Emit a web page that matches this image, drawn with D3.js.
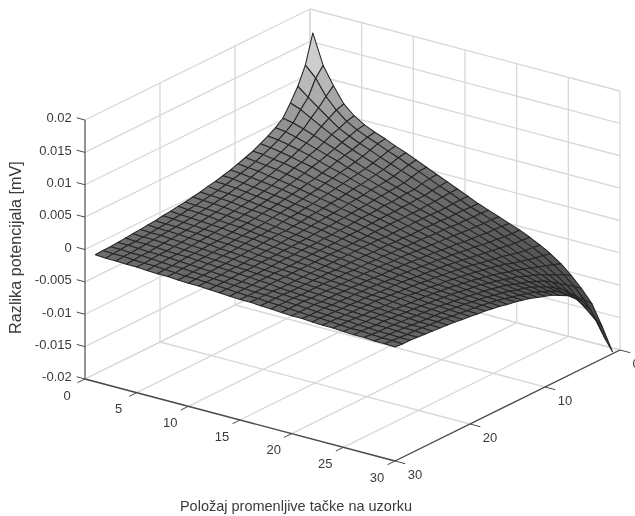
<!DOCTYPE html>
<html lang="en">
<head>
  <meta charset="UTF-8">
  <title>Razlika potencijala</title>
  <script src="https://d3js.org/d3.v7.min.js"></script>
  <style>
    html, body { margin: 0; background: #fff; overflow: hidden; }
    svg { display: block; filter: blur(0.35px); }
    text { font-family: "Liberation Sans", Arial, sans-serif; fill: #3a3a3a; }
  </style>
</head>
<body>

<svg width="635" height="516"></svg>

<script>
  const xTicks = [0, 5, 10, 15, 20, 25, 30];
  const yTicks = [0, 10, 20, 30];
  const zTicks = [-0.02, -0.015, -0.01, -0.005, 0, 0.005, 0.01, 0.015, 0.02];
  const xLabel = "Položaj promenljive tačke na uzorku";
  const zLabel = "Razlika potencijala [mV]";

  // surface, in 1e-4 mV: one row per y = 1..30, one column per x = 1..30
  const zUnit = 1e-4;
  const surfaceZ = [
    [173,127,100,76,62,52,45,39,32,26,19,12,5,-2,-9,-16,-23,-29,-35,-41,-47,-54,-62,-71,-82,-96,-112,-131,-162,-197],
    [129,113,89,72,59,50,43,37,30,24,17,11,4,-3,-9,-16,-23,-28,-34,-40,-47,-53,-60,-68,-78,-89,-103,-120,-143,-171],
    [102,89,77,65,54,46,39,33,26,20,14,8,2,-4,-10,-16,-22,-28,-34,-39,-46,-52,-59,-66,-74,-84,-95,-109,-125,-140],
    [82,76,67,58,50,42,35,29,23,17,11,5,-1,-6,-11,-17,-22,-27,-33,-39,-44,-50,-57,-63,-70,-78,-87,-97,-107,-114],
    [64,61,56,50,44,38,32,26,20,15,9,4,-1,-6,-11,-17,-22,-27,-32,-37,-43,-48,-54,-60,-66,-72,-79,-86,-92,-96],
    [55,53,49,44,39,34,29,23,18,13,8,3,-2,-7,-12,-16,-21,-26,-31,-36,-41,-46,-51,-57,-62,-67,-72,-78,-83,-86],
    [48,46,43,39,35,30,25,21,16,11,7,2,-3,-7,-12,-16,-21,-25,-30,-35,-39,-44,-49,-53,-58,-63,-67,-71,-74,-76],
    [42,40,37,34,30,27,22,18,14,10,5,1,-3,-8,-12,-16,-20,-25,-29,-33,-38,-42,-46,-50,-55,-58,-62,-65,-68,-70],
    [36,35,32,30,27,23,19,16,12,8,4,0,-4,-8,-12,-16,-20,-24,-28,-32,-36,-40,-44,-47,-51,-55,-58,-60,-63,-64],
    [32,30,28,26,23,20,17,13,10,6,3,-1,-5,-8,-12,-16,-20,-23,-27,-31,-34,-38,-41,-45,-48,-51,-54,-56,-58,-60],
    [28,26,25,22,20,17,14,11,8,5,1,-2,-5,-9,-12,-16,-19,-23,-26,-29,-33,-36,-39,-42,-45,-48,-50,-53,-54,-56],
    [24,23,21,19,17,15,12,9,6,3,0,-3,-6,-9,-12,-16,-19,-22,-25,-28,-31,-34,-37,-40,-43,-45,-47,-49,-51,-52],
    [21,20,18,16,14,12,10,7,5,2,-1,-4,-7,-10,-13,-15,-18,-21,-24,-27,-30,-33,-35,-38,-40,-42,-44,-46,-48,-49],
    [18,17,16,14,12,10,8,6,3,1,-2,-5,-7,-10,-13,-15,-18,-21,-23,-26,-29,-31,-34,-36,-38,-40,-42,-44,-45,-46],
    [16,14,13,12,10,8,6,4,2,-1,-3,-5,-8,-10,-13,-15,-18,-20,-23,-25,-27,-30,-32,-34,-36,-38,-40,-41,-42,-44],
    [13,12,11,10,8,6,5,3,1,-2,-4,-6,-8,-11,-13,-15,-17,-20,-22,-24,-26,-29,-31,-33,-34,-36,-38,-39,-40,-41],
    [11,10,9,8,6,5,3,1,-1,-3,-5,-7,-9,-11,-13,-15,-17,-19,-21,-23,-25,-27,-29,-31,-33,-34,-36,-37,-38,-39],
    [9,8,7,6,5,3,2,0,-2,-3,-5,-7,-9,-11,-13,-15,-17,-19,-21,-23,-25,-26,-28,-30,-31,-33,-34,-35,-36,-37],
    [8,7,6,5,3,2,1,-1,-3,-4,-6,-8,-9,-11,-13,-15,-17,-19,-20,-22,-24,-25,-27,-29,-30,-31,-33,-34,-35,-36],
    [6,5,4,3,2,1,-1,-2,-3,-5,-7,-8,-10,-11,-13,-15,-17,-18,-20,-21,-23,-25,-26,-27,-29,-30,-31,-32,-33,-34],
    [5,4,3,2,1,0,-2,-3,-4,-6,-7,-9,-10,-12,-13,-15,-16,-18,-19,-21,-22,-24,-25,-26,-28,-29,-30,-31,-32,-33],
    [3,2,2,1,0,-1,-3,-4,-5,-6,-8,-9,-10,-12,-13,-15,-16,-18,-19,-20,-22,-23,-24,-25,-27,-28,-29,-30,-30,-31],
    [2,1,1,0,-1,-2,-3,-5,-6,-7,-8,-9,-11,-12,-13,-15,-16,-17,-19,-20,-21,-22,-23,-25,-26,-27,-28,-29,-29,-30],
    [1,0,0,-1,-2,-3,-4,-5,-6,-7,-9,-10,-11,-12,-13,-15,-16,-17,-18,-19,-21,-22,-23,-24,-25,-26,-27,-28,-28,-29],
    [0,-1,-1,-2,-3,-4,-5,-6,-7,-8,-9,-10,-11,-12,-13,-15,-16,-17,-18,-19,-20,-21,-22,-23,-24,-25,-26,-27,-27,-28],
    [-1,-2,-2,-3,-4,-5,-5,-6,-7,-8,-9,-10,-11,-12,-13,-15,-16,-17,-18,-19,-20,-21,-22,-23,-23,-24,-25,-26,-26,-27],
    [-2,-2,-3,-4,-4,-5,-6,-7,-8,-9,-10,-11,-12,-13,-14,-14,-15,-16,-17,-18,-19,-20,-21,-22,-23,-24,-24,-25,-26,-26],
    [-3,-3,-4,-4,-5,-6,-7,-7,-8,-9,-10,-11,-12,-13,-14,-14,-15,-16,-17,-18,-19,-20,-21,-21,-22,-23,-24,-24,-25,-25],
    [-3,-4,-4,-5,-6,-6,-7,-8,-9,-9,-10,-11,-12,-13,-14,-14,-15,-16,-17,-18,-19,-19,-20,-21,-22,-22,-23,-24,-24,-25],
    [-4,-5,-5,-6,-6,-7,-8,-8,-9,-10,-10,-11,-12,-13,-14,-14,-15,-16,-17,-18,-18,-19,-20,-20,-21,-22,-22,-23,-23,-24]
  ];

  const svg = d3.select("svg");

  // oblique projection of the 3D box: one linear scale per screen component
  const xPx = d3.scaleLinear().domain([0, 30]).range([0, 310]);
  const xPy = d3.scaleLinear().domain([0, 30]).range([0, 82]);
  const yPx = d3.scaleLinear().domain([0, 30]).range([0, -225]);
  const yPy = d3.scaleLinear().domain([0, 30]).range([0, 111]);
  const zPy = d3.scaleLinear().domain([-0.02, 0.02]).range([268, 9]);
  const project = (x, y, z) => [310 + xPx(x) + yPx(y), zPy(z) + xPy(x) + yPy(y)];

  const gridColor = "#d8d8d8";
  const axisColor = "#4a4a4a";
  const zMin = -0.02, zMax = 0.02;

  const seg = (g, a, b, color, w) => g.append("line")
    .attr("x1", a[0]).attr("y1", a[1]).attr("x2", b[0]).attr("y2", b[1])
    .attr("stroke", color).attr("stroke-width", w);

  // walls and floor
  const grid = svg.append("g");
  xTicks.forEach(x => {
    seg(grid, project(x, 0, zMin), project(x, 0, zMax), gridColor, 1.3);
    seg(grid, project(x, 0, zMin), project(x, 30, zMin), gridColor, 1.3);
  });
  yTicks.forEach(y => {
    if (y < 30) seg(grid, project(0, y, zMin), project(0, y, zMax), gridColor, 1.3);
    seg(grid, project(0, y, zMin), project(30, y, zMin), gridColor, 1.3);
  });
  zTicks.forEach(z => {
    seg(grid, project(0, 0, z), project(30, 0, z), gridColor, 1.3);
    seg(grid, project(0, 0, z), project(0, 30, z), gridColor, 1.3);
  });

  // surface, far corner first
  const shade = d3.scaleLinear()
    .domain([-0.02, -0.005, 0, 0.005, 0.0135])
    .range(["#3c3c3c", "#5a5a5a", "#6e6e6e", "#8c8c8c", "#cdcdcd"]);
  const path = d3.line();

  const faces = [];
  for (let j = 0; j < surfaceZ.length - 1; j++) {
    for (let i = 0; i < surfaceZ[j].length - 1; i++) {
      faces.push({ i, j });
    }
  }
  faces.sort((a, b) => (a.i + a.j) - (b.i + b.j));

  const corner = (i, j) => project(i + 1, j + 1, surfaceZ[j][i] * zUnit);
  const faceMean = d => d3.mean([surfaceZ[d.j][d.i], surfaceZ[d.j][d.i + 1],
    surfaceZ[d.j + 1][d.i], surfaceZ[d.j + 1][d.i + 1]]) * zUnit;

  svg.append("g").selectAll("path")
    .data(faces)
    .enter()
    .append("path")
    .attr("d", d => path([corner(d.i, d.j), corner(d.i + 1, d.j), corner(d.i + 1, d.j + 1), corner(d.i, d.j + 1)]) + "Z")
    .attr("fill", d => shade(faceMean(d)))
    .attr("stroke", "#262626")
    .attr("stroke-width", 1.05)
    .attr("stroke-linejoin", "round");

  // axes
  const axes = svg.append("g");
  seg(axes, project(0, 30, zMin), project(0, 30, zMax), "#707070", 1.5);
  seg(axes, project(0, 30, zMin), project(30, 30, zMin), axisColor, 1.3);
  seg(axes, project(30, 30, zMin), project(30, 0, zMin), axisColor, 1.3);

  xTicks.forEach(x => {
    const p = project(x, 30, zMin);
    seg(axes, p, project(x, 31, zMin), axisColor, 1);
    axes.append("text").attr("x", p[0] - 18).attr("y", p[1] + 16)
      .attr("text-anchor", "middle").attr("dy", "0.35em").attr("font-size", 13).text(x);
  });
  yTicks.forEach(y => {
    const p = project(30, y, zMin);
    seg(axes, p, project(31, y, zMin), axisColor, 1);
    axes.append("text").attr("x", Math.min(p[0] + 20, 636)).attr("y", p[1] + 13)
      .attr("text-anchor", "middle").attr("dy", "0.35em").attr("font-size", 13).text(y);
  });
  zTicks.forEach(z => {
    const p = project(0, 30, z);
    const q = project(-0.8, 30, z);
    seg(axes, p, q, axisColor, 1);
    axes.append("text").attr("x", q[0] - 5).attr("y", q[1])
      .attr("text-anchor", "end").attr("dy", "0.35em").attr("font-size", 13).text(z);
  });

  svg.append("text").attr("x", 296).attr("y", 511)
    .attr("text-anchor", "middle").attr("font-size", 14.5).text(xLabel);
  svg.append("text").attr("transform", "translate(21,247.5) rotate(-90)")
    .attr("text-anchor", "middle").attr("font-size", 16.2).text(zLabel);
</script>

</body>
</html>
